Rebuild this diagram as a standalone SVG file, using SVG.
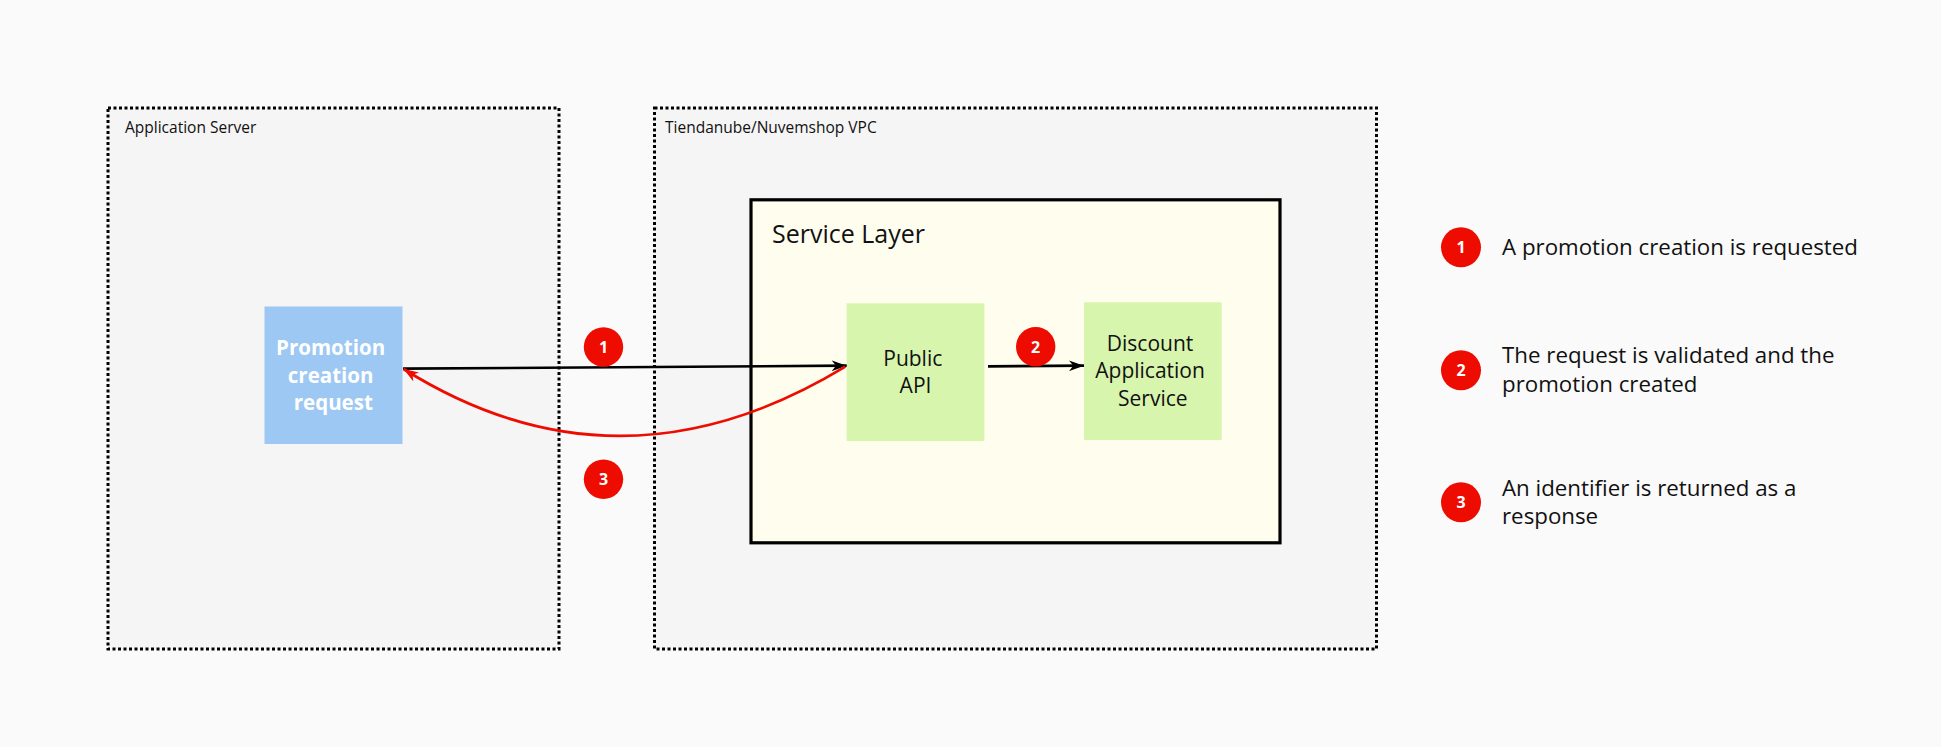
<svg xmlns="http://www.w3.org/2000/svg" width="1941" height="747" viewBox="0 0 1941 747">
  <style>
    .container { fill: #f5f5f5; stroke: #000; stroke-width: 3; stroke-dasharray: 3 2.5; }
    .small { font-family: "Open Sans", "Liberation Sans", sans-serif; font-size: 15.5px; fill: #111; }
    .node-text { font-family: "Open Sans", "Liberation Sans", sans-serif; font-size: 21px; fill: #111; text-anchor: middle; }
    .legend-text { font-family: "Open Sans", "Liberation Sans", sans-serif; font-size: 22.3px; fill: #111; }
    .badge circle { fill: #ee0c00; }
    .badge text { font-family: "Open Sans", "Liberation Sans", sans-serif; font-size: 16px; font-weight: bold; fill: #fff; text-anchor: middle; }
    .green { fill: #d8f5ae; }
  </style>
  <defs>
    <marker id="arrowBlack" viewBox="0 0 14 10" refX="14" refY="5" markerWidth="15" markerHeight="11" markerUnits="userSpaceOnUse" orient="auto">
      <path d="M0,0 L14,5 L0,10 L4,5 Z" fill="#000"/>
    </marker>
    <marker id="arrowRed" viewBox="0 0 14 10" refX="14" refY="5" markerWidth="15" markerHeight="11" markerUnits="userSpaceOnUse" orient="auto">
      <path d="M0,0 L14,5 L0,10 L4,5 Z" fill="#ee0c00"/>
    </marker>
  </defs>
  <rect x="0" y="0" width="1941" height="747" fill="#fafafa"/>

  <g id="application-server">
    <rect class="container" x="108" y="108" width="451" height="541"/>
    <text class="small" x="125" y="133.3">Application Server</text>
  </g>

  <g id="vpc">
    <rect class="container" x="654.5" y="108" width="722" height="541"/>
    <text class="small" x="665" y="133.3">Tiendanube/Nuvemshop VPC</text>
  </g>

  <g id="service-layer">
    <rect x="751" y="199.8" width="529" height="343" fill="#fffeee" stroke="#000" stroke-width="3.2"/>
    <text x="772" y="243.3" font-family="Open Sans, Liberation Sans, sans-serif" font-size="25" fill="#111">Service Layer</text>
  </g>

  <g id="promotion-request">
    <rect x="264.5" y="306.5" width="138" height="137.5" fill="#9dc8f4"/>
    <text x="333.3" text-anchor="middle" font-family="Open Sans, Liberation Sans, sans-serif" font-size="20.5" font-weight="bold" fill="#fff">
      <tspan x="333.3" y="355">Promotion</tspan>
      <tspan x="333.3" y="382.7">creation</tspan>
      <tspan x="333.3" y="410">request</tspan>
    </text>
  </g>

  <g id="public-api">
    <rect class="green" x="846.6" y="303.3" width="137.8" height="137.7"/>
    <text class="node-text">
      <tspan x="915.5" y="365.7">Public</tspan>
      <tspan x="915.5" y="393.3">API</tspan>
    </text>
  </g>

  <g id="discount-service">
    <rect class="green" x="1084" y="302.3" width="137.7" height="137.7"/>
    <text class="node-text">
      <tspan x="1152.8" y="350.7">Discount</tspan>
      <tspan x="1152.8" y="378.3">Application</tspan>
      <tspan x="1152.8" y="406">Service</tspan>
    </text>
  </g>

  <g id="connectors">
    <path d="M403,368.7 L846.7,365.7" fill="none" stroke="#000" stroke-width="2.7" marker-end="url(#arrowBlack)"/>
    <path d="M988,366.3 L1084,365.7" fill="none" stroke="#000" stroke-width="2.7" marker-end="url(#arrowBlack)"/>
    <path d="M845.3,366.7 Q619,504 403.5,369" fill="none" stroke="#ee0c00" stroke-width="2.7" marker-end="url(#arrowRed)"/>
  </g>

  <g id="badge-1" class="badge">
    <circle cx="603.5" cy="347" r="19.7"/>
    <text x="603.5" y="352.8">1</text>
  </g>
  <g id="badge-2" class="badge">
    <circle cx="1035.7" cy="346.7" r="19.7"/>
    <text x="1035.7" y="352.5">2</text>
  </g>
  <g id="badge-3" class="badge">
    <circle cx="603.5" cy="479.3" r="19.7"/>
    <text x="603.5" y="485.1">3</text>
  </g>

  <g id="legend-1">
    <g class="badge">
      <circle cx="1461" cy="247.3" r="20"/>
      <text x="1461" y="253.1">1</text>
    </g>
    <text class="legend-text" x="1502" y="255">A promotion creation is requested</text>
  </g>
  <g id="legend-2">
    <g class="badge">
      <circle cx="1461" cy="370.3" r="20"/>
      <text x="1461" y="376.1">2</text>
    </g>
    <text class="legend-text">
      <tspan x="1502" y="363.3">The request is validated and the</tspan>
      <tspan x="1502" y="392.3">promotion created</tspan>
    </text>
  </g>
  <g id="legend-3">
    <g class="badge">
      <circle cx="1461" cy="502.3" r="20"/>
      <text x="1461" y="508.1">3</text>
    </g>
    <text class="legend-text">
      <tspan x="1502" y="495.7">An identifier is returned as a</tspan>
      <tspan x="1502" y="524.3">response</tspan>
    </text>
  </g>
</svg>
